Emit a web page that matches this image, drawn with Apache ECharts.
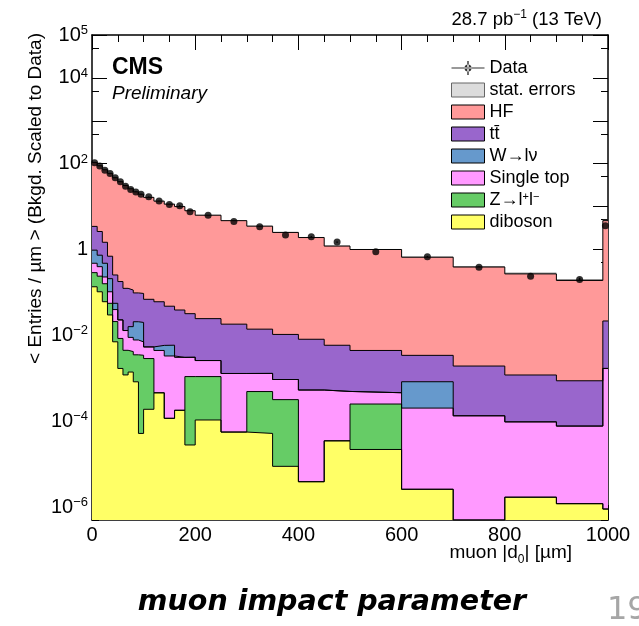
<!DOCTYPE html>
<html><head><meta charset="utf-8">
<script src="https://cdn.jsdelivr.net/npm/echarts@6/dist/echarts.min.js"></script>
<style>html,body{margin:0;padding:0;background:#fff}#c{width:639px;height:626px}</style>
</head><body><div id="c"></div>
<script>
// ---- data ----
const binEdges = [0,10,20,30,40,50,60,70,80,90,100,120,140,160,180,200,250,300,350,400,450,500,600,700,800,900,990,1000];
const hf        = [104,87,71,59,47,38,31,26,22,19.4,16.4,13.4,11.4,10.0,8.0,6.3,4.7,3.5,2.5,1.9,1.2,1.0,0.66,0.39,0.27,0.19,4.7];
const ttbar     = [2.5,1.9,1.0,0.49,0.20,0.157,0.112,0.098,0.077,0.075,0.064,0.055,0.042,0.036,0.029,0.022,0.017,0.0127,0.0096,0.0076,0.0054,0.0040,0.0026,0.0018,0.0011,0.0008,0.020];
const wjets     = [0.49,0.34,0.25,0.106,0.016,0,0,0.007,0.013,0.013,0,0.0014,0.0026,0,0,0,0,0,0,0,0,0,0.00063,0,0,0,0];
const singleTop = [0.19,0.16,0.07,0.048,0.019,0.0145,0.0085,0.0048,0.0043,0.0036,0.0025,0.0040,0.0032,0.0029,0.0020,0.0015,0.00124,0.00081,0.00062,0.00053,0.00046,0.00021,0.0002,0.000134,0.000095,0.000076,0.0017];
const zll       = [0.154,0.136,0.099,0.026,0.0139,0.0068,0.0033,0.0028,0.0027,0.0034,0.0027,0,0,0,0.00107,0.00099,0,0.00044,0.00031,0,0,0.00023,0,0,0,0,0];
const diboson   = [0.136,0.104,0.061,0.030,0.0071,0.0017,0.0012,0.0014,0.00083,0.000052,0.00019,0.00046,0.000117,0.00018,0.000028,0.000107,0.000056,0.000052,0.0000089,0.0000039,0.000035,0.000022,0.0000026,0,0.0000017,0.0000012,0.0000009];
const statErr   = [1.5,1.3,1.1,1.0,0.8,0.7,0.6,0.5,0.5,0.4,0.3,0.3,0.25,0.22,0.2,0.12,0.1,0.08,0.07,0.06,0.04,0.03,0.03,0.02,0.02,0.016,0.25];
const dataValues= [105,89,71,59,47,38,30,25,22,19.5,17,13.5,11.2,10.5,7.6,6.3,4.5,3.4,2.2,2.0,1.5,0.89,0.68,0.39,0.24,0.20,3.6];
const dataErr   = [1,1,0.8,0.8,0.7,0.6,0.6,0.5,0.5,0.5,0.3,0.3,0.3,0.3,0.2,0.1,0.1,0.08,0.07,0.06,0.05,0.03,0.03,0.02,0.02,0.02,0.3];
const xTickValues = [0,200,400,600,800,1000];
const yMajorTicks = [1e-6,1e-5,1e-4,1e-3,1e-2,1e-1,1,10,100,1e3,1e4,1e5];
const yMinorTicks = [5e-7,5e-6,5e-5,5e-4,5e-3,5e-2,0.5,5,50,500,5e3,5e4];
const yLabelTicks = [1e-6,1e-4,1e-2,1,100,1e4,1e5];
const legendNames = ['Data','stat. errors','HF','tt\u0304','W\u2192l\u03bd','Single top','Z\u2192l+l-','diboson'];
const fills = {'HF':'#FF9999','tt\u0304':'#9966CC','W\u2192l\u03bd':'#6699CC','Single top':'#FF99FF','Z\u2192l+l-':'#66CC66','diboson':'#FFFF66'};

const yMin = 5e-7, yMax = 1e5;
const FONT = 'Liberation Sans, Arial, Helvetica, sans-serif';
const N = hf.length;

// cumulative stacks (bottom to top)
function addArr(a,b){ return a.map((v,i)=>v+b[i]); }
const cumDB = diboson.slice();
const cumZ  = addArr(cumDB, zll);
const cumST = addArr(cumZ, singleTop);
const cumW  = addArr(cumST, wjets);
const cumTT = addArr(cumW, ttbar);
const cumHF = addArr(cumTT, hf);

function stepData(cum){
  return binEdges.map((e,i)=>[e, Math.max(cum[Math.min(i,N-1)], yMin)]);
}
const centers = hf.map((_,i)=>(binEdges[i]+binEdges[i+1])/2);

const stacks = [
  ['HF', cumHF], ['tt\u0304', cumTT], ['W\u2192l\u03bd', cumW],
  ['Single top', cumST], ['Z\u2192l+l-', cumZ], ['diboson', cumDB]
];

const series = stacks.map(([name, cum]) => ({
  type:'line', name, step:'end', data: stepData(cum), showSymbol:false, symbol:'none',
  xAxisIndex:0, yAxisIndex:0, clip:true, silent:true,
  color: fills[name], itemStyle:{color: fills[name]},
  lineStyle:{color:'#000', width:1},
  areaStyle:{color: fills[name], opacity:1, origin:'start'}
}));

series.push({
  type:'custom', name:'stat. errors', xAxisIndex:0, yAxisIndex:0, silent:true,
  itemStyle:{color:'#bbbbbb'},
  data: hf.map((_,i)=>[binEdges[i], binEdges[i+1], cumHF[i]-statErr[i], cumHF[i]+statErr[i]]),
  encode:{x:[0,1], y:[2,3]},
  renderItem(params, api){
    const p1 = api.coord([api.value(0), api.value(3)]);
    const p2 = api.coord([api.value(1), api.value(2)]);
    return {type:'rect', shape:{x:p1[0], y:p1[1], width:p2[0]-p1[0], height:Math.max(p2[1]-p1[1],1)},
            style:{fill:'rgba(120,120,120,0.75)'}};
  }
});

series.push({
  type:'custom', xAxisIndex:0, yAxisIndex:0, silent:true,
  data: dataValues.map((v,i)=>[centers[i], v-dataErr[i], v+dataErr[i]]),
  encode:{x:0, y:[1,2]},
  renderItem(params, api){
    const a = api.coord([api.value(0), api.value(1)]);
    const b = api.coord([api.value(0), api.value(2)]);
    return {type:'line', shape:{x1:a[0], y1:a[1], x2:b[0], y2:b[1]}, style:{stroke:'#000', lineWidth:1.5}};
  }
});

series.push({
  type:'scatter', name:'Data', xAxisIndex:0, yAxisIndex:0, silent:true,
  symbol:'circle', symbolSize:7, itemStyle:{color:'#000'},
  data: dataValues.map((v,i)=>[centers[i], v]), z:5
});

const tickStyle = {color:'#000', width:1};
function xAx(pos, showLabel){
  return {type:'value', min:0, max:1000, interval:200, position:pos,
    axisLine:{show:true, onZero:false, lineStyle:{color:'#000', width:1.5}},
    axisTick:{show:true, inside:true, length:15, lineStyle:tickStyle},
    minorTick:{show:true, splitNumber:4, length:7, lineStyle:tickStyle},
    splitLine:{show:false}, minorSplitLine:{show:false},
    axisLabel:{show:showLabel, fontSize:20, color:'#000', fontFamily:FONT, margin:5,
      customValues: xTickValues, formatter: v => String(Math.round(v))}
  };
}
function supExp(v){
  const e = Math.round(Math.log10(v));
  if (e === 0) return '{b|1}';
  return '{b|10}{s|' + (e < 0 ? '\u2212' + (-e) : e) + '}';
}
function yAx(pos, ticks, len, label, line){
  return {type:'log', logBase:10, min:yMin, max:yMax, position:pos,
    axisLine:{show:line, onZero:false, lineStyle:{color:'#000', width:1.5}},
    axisTick:{show:true, inside:true, length:len, lineStyle:tickStyle, customValues: ticks},
    minorTick:{show:false}, splitLine:{show:false},
    axisLabel: label ? {show:true, margin:4, customValues: yLabelTicks, formatter: supExp,
      rich:{b:{fontSize:20, fontFamily:FONT, color:'#000', lineHeight:22},
            s:{fontSize:13, fontFamily:FONT, color:'#000', verticalAlign:'top'}}} : {show:false}
  };
}

const legendData = legendNames.map(n => {
  if (n === 'Data') return {name:n, icon:'path://M0,6.4H33V7.6H0Z M15.8,0H17.2V14H15.8Z M13,7A3.5,3.5,0,1,0,20,7A3.5,3.5,0,1,0,13,7Z', itemStyle:{color:'#000', borderWidth:0}};
  if (n === 'stat. errors') return {name:n, icon:'rect', itemStyle:{color:'#dcdcdc', borderColor:'#666', borderWidth:1}};
  return {name:n, icon:'rect', itemStyle:{color:fills[n], borderColor:'#000', borderWidth:1}};
});

const option = {
  animation:false,
  backgroundColor:'#fff',
  grid:{left:92, right:31, top:35, bottom:106, containLabel:false},
  xAxis:[xAx('bottom', true), xAx('top', false)],
  yAxis:[
    yAx('left', yMajorTicks, 15, true, true),
    yAx('left', yMinorTicks, 7, false, false),
    yAx('right', yMajorTicks, 15, false, true),
    yAx('right', yMinorTicks, 7, false, false)
  ],
  legend:{
    orient:'vertical', left:446, top:54, itemWidth:33, itemHeight:14, itemGap:4,
    selectedMode:false, data: legendData,
    textStyle:{fontSize:18, fontFamily:FONT, color:'#000',
      rich:{sup:{fontSize:11, fontFamily:FONT, color:'#000', verticalAlign:'top'},
            n:{fontSize:18, fontFamily:FONT, color:'#000', lineHeight:18}}},
    formatter(name){
      if (name === 'Z\u2192l+l-') return '{n|Z\u2192l}{sup|+}{n|l}{sup|\u2212}';
      return name;
    }
  },
  graphic:[
    {type:'text', left:112, top:56, style:{text:'CMS', font:'bold 23px ' + FONT, fill:'#000'}},
    {type:'text', left:112, top:84, style:{text:'Preliminary', font:'italic 19px ' + FONT, fill:'#000'}},
    {type:'text', x:602, y:20, style:{text:'{n|28.7 pb}{s|\u22121}{n| (13 TeV)}', align:'right', verticalAlign:'middle',
      rich:{n:{fontSize:18.5, fontFamily:FONT, fill:'#000', lineHeight:22}, s:{fontSize:12, fontFamily:FONT, fill:'#000', verticalAlign:'top'}}}},
    {type:'text', x:36, y:33, rotation:Math.PI/2, style:{text:'< Entries / \u00b5m > (Bkgd. Scaled to Data)', align:'right', verticalAlign:'middle', font:'19px ' + FONT, fill:'#000'}},
    {type:'text', x:572, y:553, style:{text:'{n|muon |d}{sub|0}{n|| [\u00b5m]}', align:'right', verticalAlign:'middle',
      rich:{n:{fontSize:19, fontFamily:FONT, fill:'#000', lineHeight:26}, sub:{fontSize:12, fontFamily:FONT, fill:'#000', verticalAlign:'bottom'}}}},
    {type:'text', x:332, y:603, style:{text:'muon impact parameter', align:'center', verticalAlign:'middle', font:'italic bold 28.5px "DejaVu Sans", sans-serif', fill:'#000'}},
    {type:'text', x:607, y:611, style:{text:'19', align:'left', verticalAlign:'middle', font:'32px "DejaVu Sans", sans-serif', fill:'#a6a6a6'}}
  ],
  series
};
const chart = echarts.init(document.getElementById('c'), null, {renderer:'canvas'});
chart.setOption(option);
</script></body></html>
